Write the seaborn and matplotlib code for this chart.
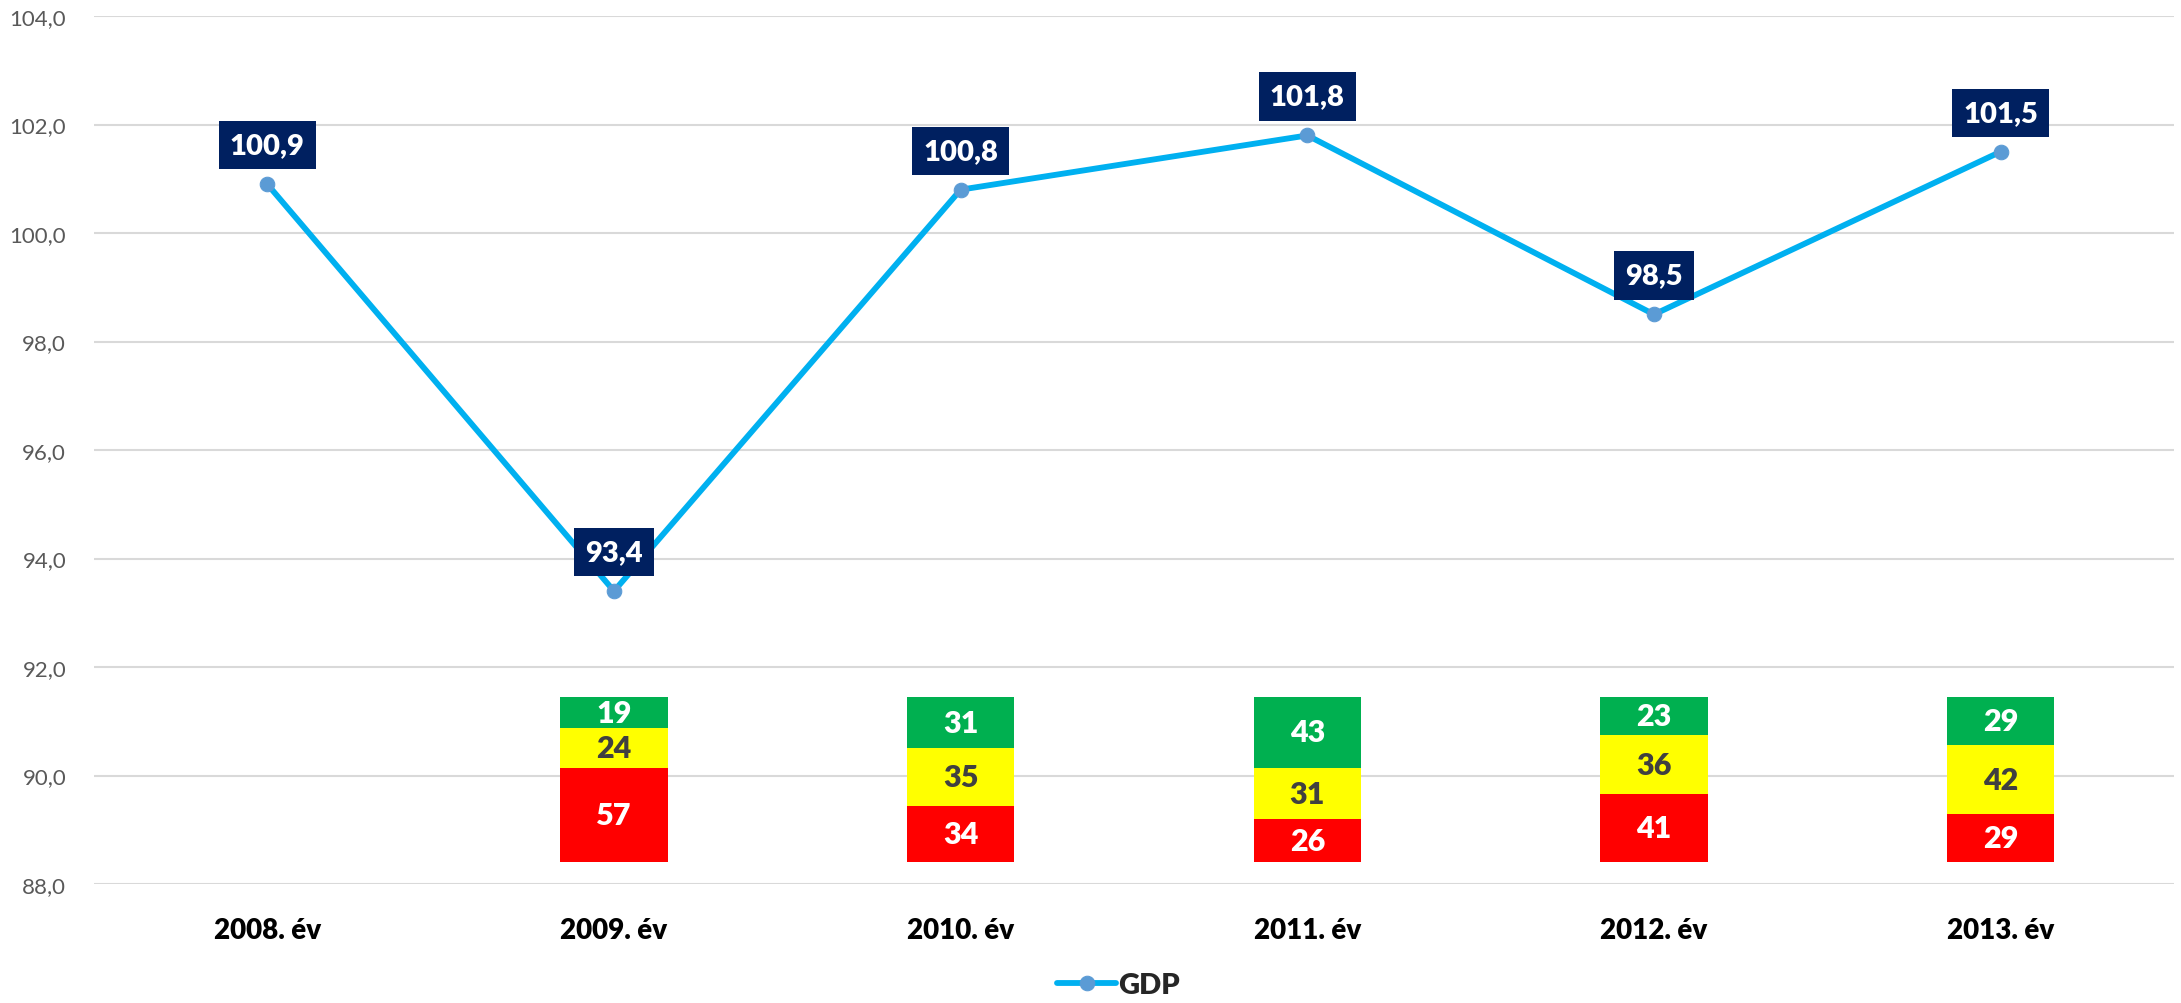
import numpy as np
import pandas as pd
import matplotlib
matplotlib.use("Agg")
import matplotlib.pyplot as plt
import seaborn as sns

years = ["2008. év", "2009. év", "2010. év", "2011. év", "2012. év", "2013. év"]
gdp = [100.9, 93.4, 100.8, 101.8, 98.5, 101.5]

# stacked shares under each year (2008 has none)
bar_years = ["2009. év", "2010. év", "2011. év", "2012. év", "2013. év"]
red_vals = [57, 34, 26, 41, 29]
yellow_vals = [24, 35, 31, 36, 42]
green_vals = [19, 31, 43, 23, 29]

sns.set_theme(style="white")
plt.rcParams["font.family"] = ["Lato", "DejaVu Sans"]

fig = plt.figure(figsize=(21.81, 10.04), dpi=100)
ax = fig.add_axes([0.0431, 0.1185, 0.9537, 0.8645])

df = pd.DataFrame({"x": np.arange(len(years)), "GDP": gdp})
sns.lineplot(data=df, x="x", y="GDP", ax=ax, color="#00B0F0", linewidth=4.2,
             marker="o", markersize=10.5, markerfacecolor="#5B9BD5",
             markeredgecolor="#5B9BD5", label="GDP", zorder=3)

# value labels in navy boxes
for i, v in enumerate(gdp):
    ax.annotate(f"{v:.1f}".replace(".", ","), (i, v), xytext=(0, 28),
                textcoords="offset points", ha="center", va="center",
                fontsize=21, fontweight="heavy", color="white", zorder=5,
                bbox=dict(boxstyle="square,pad=0.38", fc="#002060", ec="none"))

# stacked bars drawn near the bottom of the value axis
base = 88.4
scale = 3.05 / 100
width = 0.31
for name, r, yv, g in zip(bar_years, red_vals, yellow_vals, green_vals):
    x = years.index(name)
    bottom = base
    for val, col, tcol in [(r, "#FF0000", "white"), (yv, "#FFFF00", "#404040"),
                           (g, "#00B050", "white")]:
        h = val * scale
        ax.bar(x, h, bottom=bottom, width=width, color=col, edgecolor="none", zorder=2)
        ax.text(x, bottom + h / 2, str(val), ha="center", va="center",
                fontsize=22, fontweight="heavy", color=tcol, zorder=4)
        bottom += h

ax.set_ylim(88, 104)
ax.set_yticks(np.arange(88, 104.1, 2))
ax.set_yticklabels([f"{t:.1f}".replace(".", ",") for t in np.arange(88, 104.1, 2)],
                   fontsize=16, color="#595959")
ax.set_xlim(-0.5, 5.5)
ax.set_xticks(range(len(years)))
ax.set_xticklabels(years, fontsize=20, fontweight="heavy", color="black")
ax.tick_params(axis="x", length=0, pad=24)
ax.tick_params(axis="y", length=0, pad=20)
ax.set_xlabel("")
ax.set_ylabel("")
ax.grid(axis="y", color="#D9D9D9", linewidth=1.5, zorder=0)
ax.set_axisbelow(True)
for s in ax.spines.values():
    s.set_visible(False)

ax.get_legend().remove()
handles, labels = ax.get_legend_handles_labels()
fig.legend(handles, labels, loc="center", bbox_to_anchor=(0.513, 0.018), frameon=False,
           prop={"size": 21, "weight": "heavy"}, handlelength=2.0, handletextpad=0.1)

fig.savefig("out.png", dpi=100)
